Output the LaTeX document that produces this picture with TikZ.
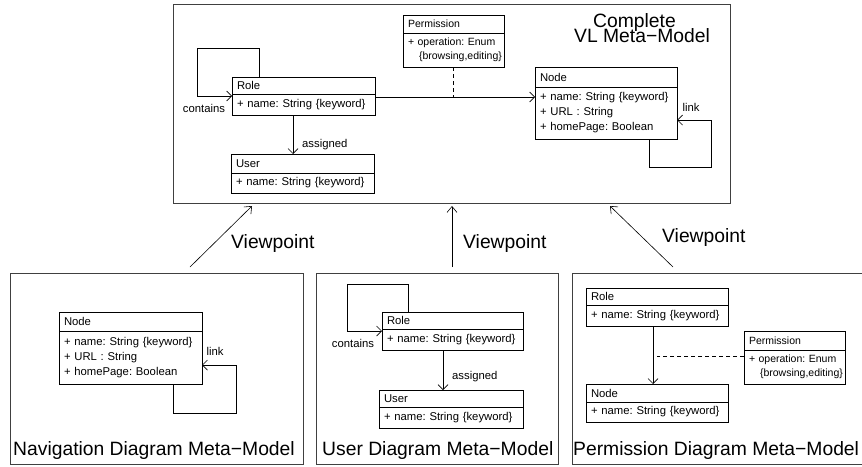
\documentclass[tikz,border=0pt]{standalone}
\usepackage{fontspec}
\setmainfont{Liberation Sans}
\usetikzlibrary{arrows.meta,calc}
\protected\def\clsfA{\fontsize{11.3}{15}\selectfont\frenchspacing}
\protected\def\clsfB{\fontsize{10.5}{14}\selectfont\frenchspacing}
\newcommand\umlcls[8]{%
  \pgfmathsetmacro\umltw{#4-10}%
  \node[hd, text width=\umltw pt, minimum height=#5pt] (#1H) at (#2,#3) {#7};
  \node[hd, text width=\umltw pt, minimum height=#6pt] (#1B) at (#1H.south west) {#8};
}
\begin{document}
\begin{tikzpicture}[x=1pt,y=-1pt,
  frame/.style={draw=black!75, line width=1pt, anchor=north west, inner sep=0pt, outer sep=0pt},
  clsf/.style={font=\clsfA},
  hd/.style={draw, line width=0.7pt, anchor=north west, inner xsep=5pt, inner ysep=0pt, outer sep=0pt, align=left, clsf},
  assoc/.style={draw, line width=0.7pt, -{Straight Barb[length=5pt,width=10pt]}},
  vp/.style={draw, line width=0.6pt, -{Straight Barb[length=6pt,width=10pt]}},
  dsh/.style={draw, line width=0.7pt, dash pattern=on 4pt off 3pt},
  lbl/.style={inner sep=0pt, clsf},
  big/.style={inner sep=0pt, font=\fontsize{19.3}{23}\selectfont},
]
\useasboundingbox (0,0) rectangle (862,466);

% frames
\node[frame, minimum width=557pt, minimum height=199pt] (cvl) at (173,4) {};
\node[frame, minimum width=293pt, minimum height=191pt] (nav) at (10,273) {};
\node[frame, minimum width=242pt, minimum height=191pt] (usr) at (316,273) {};
\node[frame, minimum width=291pt, minimum height=191pt] (prm) at (572,273) {};

% titles
\node[big, anchor=north west, align=left] (cvlT) at (574,13) {\hspace*{19pt}Complete\\[-8pt]VL Meta−Model};
\node[big, anchor=base west] (navT) at (13,455) {Navigation Diagram Meta−Model};
\node[big, anchor=base west] (usrT) at (322,455) {User Diagram Meta−Model};
\node[big, anchor=base west] (prmT) at (573,455) {Permission Diagram Meta−Model};

% ---- complete meta-model
\umlcls{tRole}{232}{77}{143}{17}{21}{Role}{+ name: String \{keyword\}}
\umlcls{tUser}{231}{154}{143}{19}{20}{User}{+ name: String \{keyword\}}
\umlcls{tNode}{535}{67}{142}{20}{52}{Node}{+ name: String \{keyword\}\\+ URL : String\\+ homePage: Boolean}
\begin{scope}[clsf/.style={font=\clsfB}]
\umlcls{tPerm}{403}{15}{101}{18}{34}{Permission}{+ operation: Enum\\\mbox{\hspace*{11pt}\{browsing,editing\}}}
\end{scope}

\draw[assoc] ($(tRoleH.north west)+(27,0)$) |- ++(-62,-29) |- ($(tRoleB.north west)+(0,2)$);
\node[lbl] (tCont) at (204,108) {contains};
\coordinate (tRN) at ($(tRoleB.north east)+(0,3)$);
\draw[assoc] (tRN) -- (tRN -| tNodeB.west);
\draw[dsh] (tPermB.south) -- (tPermB.south |- tRN);
\coordinate (tRU) at ($(tRoleB.south west)+(61,0)$);
\draw[assoc] (tRU) -- (tRU |- tUserH.north);
\node[lbl, anchor=west] (tAss) at (302,145) {assigned};
\draw[assoc] ($(tNodeB.south west)+(114,0)$) |- ++(62,28) |- ($(tNodeB.south east)+(0,-19)$);
\node[lbl] (tLink) at (691,107) {link};

% ---- navigation diagram
\umlcls{nNode}{59}{312}{143}{19}{53}{Node}{+ name: String \{keyword\}\\+ URL : String\\+ homePage: Boolean}
\draw[assoc] ($(nNodeB.south west)+(114,0)$) |- ++(63,29) |- ($(nNodeB.south east)+(0,-19)$);
\node[lbl] (nLink) at (215,351) {link};

% ---- user diagram
\umlcls{uRole}{382}{312}{141}{17}{21}{Role}{+ name: String \{keyword\}}
\umlcls{uUser}{379}{390}{144}{17}{21}{User}{+ name: String \{keyword\}}
\draw[assoc] ($(uRoleH.north west)+(26,0)$) |- ++(-61,-28) |- ($(uRoleB.north west)+(0,2)$);
\node[lbl] (uCont) at (353,343) {contains};
\coordinate (uRU) at ($(uRoleB.south west)+(61,0)$);
\draw[assoc] (uRU) -- (uRU |- uUserH.north);
\node[lbl, anchor=west] (uAss) at (452,377) {assigned};

% ---- permission diagram
\umlcls{pRole}{586}{288}{142}{17}{21}{Role}{+ name: String \{keyword\}}
\umlcls{pNode}{586}{384}{142}{18}{20}{Node}{+ name: String \{keyword\}}
\begin{scope}[clsf/.style={font=\clsfB}]
\umlcls{pPerm}{744}{331}{101}{19}{34}{Permission}{+ operation: Enum\\\mbox{\hspace*{11pt}\{browsing,editing\}}}
\end{scope}
\coordinate (pRN) at ($(pRoleB.south west)+(67,0)$);
\draw[assoc] (pRN) -- (pRN |- pNodeH.north);
\coordinate (pD) at ($(pPermB.north west)+(0,6)$);
\draw[dsh] (pD) -- ($(pD -| pRN)+(4,0)$);

% ---- viewpoint arrows
\coordinate (v1a) at (190,267); \coordinate (v1b) at (252,206);
\coordinate (v2a) at (452,267); \coordinate (v2b) at (452,206);
\coordinate (v3a) at (673,267); \coordinate (v3b) at (610,206);
\draw[vp] (v1a) -- (v1b);
\draw[vp] (v2a) -- (v2b);
\draw[vp] (v3a) -- (v3b);
\node[big, anchor=base west] (vp1) at (231,248) {Viewpoint};
\node[big, anchor=base west] (vp2) at (463,248) {Viewpoint};
\node[big, anchor=base west] (vp3) at (662,242) {Viewpoint};
\end{tikzpicture}
\end{document}
